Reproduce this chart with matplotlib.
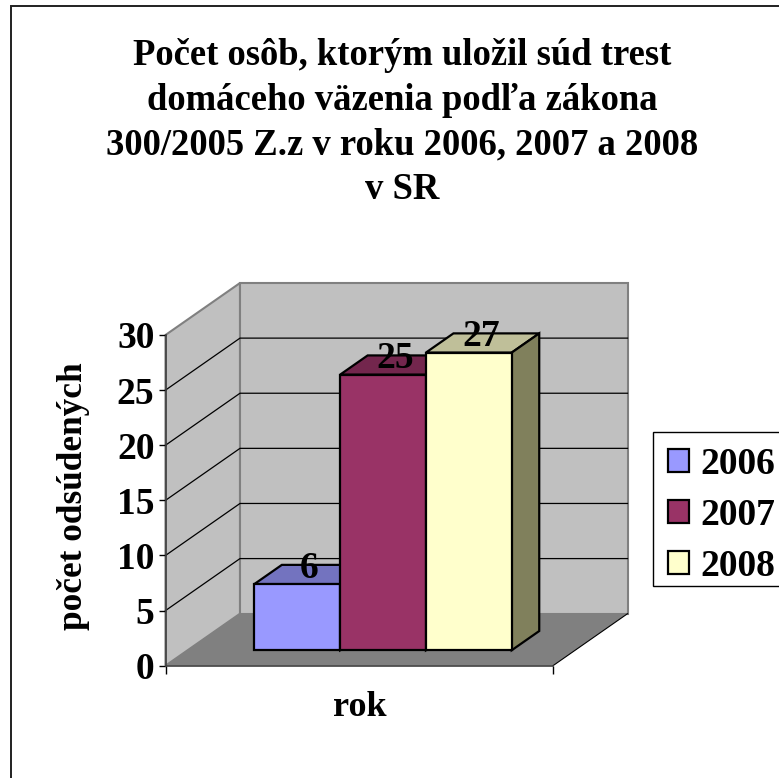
import matplotlib
matplotlib.use("Agg")
import matplotlib.pyplot as plt
from matplotlib.patches import Polygon, Patch, Rectangle

plt.rcParams['font.family'] = ['Liberation Serif', 'DejaVu Serif']
plt.rcParams['font.weight'] = 'bold'

W, H = 779, 778

title = "Počet osôb, ktorým uložil súd trest\ndomáceho väzenia podľa zákona\n300/2005 Z.z v roku 2006, 2007 a 2008\nv SR"
years = ["2006", "2007", "2008"]
values = [6, 25, 27]
colors = ["#9999ff", "#993366", "#ffffcc"]
top_colors = ["#7373bf", "#73264d", "#bfbf99"]
side_colors = ["#5c5c99", "#5c1f3d", "#80805c"]
yticks = [0, 5, 10, 15, 20, 25, 30]

# front plane of the fake 3d box, in pixels
left, right = 165.5, 553
y0_px, y30_px = 665.7, 335

fig = plt.figure(figsize=(W / 100, H / 100), dpi=100)
# only the left and top edges of the chart frame fall inside the picture
fig.add_artist(Rectangle((11 / W, -10 / H), 790 / W, (H + 10 - 5.5) / H, fill=False,
                         ec="#202020", lw=1.4, transform=fig.transFigure))

ax = fig.add_axes([left / W, 1 - y0_px / H, (right - left) / W, (y0_px - y30_px) / H])
ax.set_xlim(0, 1)
ax.set_ylim(0, 30)
ax.patch.set_visible(False)

# depth shift for the oblique view, in data units
DX = 74.5 / (right - left)
DY = 52.0 / ((y0_px - y30_px) / 30)
BAR_W = 85.8 / (right - left)
BAR_X0 = 0.172
D_FRONT, D_BACK = 0.298, 0.667


def pr(x, y, d):
    return (x + DX * d, y + DY * d)


def poly(pts, fc, ec="black", lw=1.0, z=1):
    ax.add_patch(Polygon(pts, closed=True, fc=fc, ec=ec, lw=lw, zorder=z, clip_on=False))


# walls and floor
poly([pr(0, 0, 0), pr(0, 30, 0), pr(0, 30, 1), pr(0, 0, 1)], "#c0c0c0", "#808080", 1.5)
poly([pr(0, 0, 1), pr(0, 30, 1), pr(1, 30, 1), pr(1, 0, 1)], "#c0c0c0", "#808080", 1.5)
poly([pr(0, 0, 0), pr(1, 0, 0), pr(1, 0, 1), pr(0, 0, 1)], "#808080", "none", 0)
ax.plot(*zip(pr(1, 0, 0), pr(1, 0, 1)), color="black", lw=0.8, zorder=1.5, clip_on=False)

for t in yticks[1:-1]:
    ax.plot(*zip(pr(0, t, 0), pr(0, t, 1), pr(1, t, 1)), color="black", lw=0.9, zorder=1.5, clip_on=False)

# bars, drawn left to right so the neighbour covers the shared side
for i, v in enumerate(values):
    x1 = BAR_X0 + i * BAR_W
    x2 = x1 + BAR_W
    poly([pr(x1, v, D_FRONT), pr(x2, v, D_FRONT), pr(x2, v, D_BACK), pr(x1, v, D_BACK)], top_colors[i], lw=1.6, z=3 + i)
    poly([pr(x2, 0, D_FRONT), pr(x2, v, D_FRONT), pr(x2, v, D_BACK), pr(x2, 0, D_BACK)], side_colors[i], lw=1.6, z=3 + i)
    poly([pr(x1, 0, D_FRONT), pr(x2, 0, D_FRONT), pr(x2, v, D_FRONT), pr(x1, v, D_FRONT)], colors[i], lw=1.6, z=3 + i)

for i, v in enumerate(values):
    x1 = BAR_X0 + i * BAR_W
    cx, cy = pr(x1 + BAR_W / 2, v, (D_FRONT + D_BACK) / 2)
    ax.annotate(str(v), (cx, cy), xytext=(-1, -8), textcoords="offset points", ha="center", va="bottom",
                fontsize=27, color="black", zorder=10, annotation_clip=False)

for s in ["top", "right"]:
    ax.spines[s].set_visible(False)
for s in ["left", "bottom"]:
    ax.spines[s].set_color("#404040")
    ax.spines[s].set_linewidth(1.2)
    ax.spines[s].set_zorder(2)

ax.set_yticks(yticks)
ax.set_xticks([0, 1])
ax.set_xticklabels([])
ax.tick_params(axis="y", length=5, width=1, labelsize=27, pad=3)
ax.tick_params(axis="x", length=6, width=1)

fig.text(360 / W, 1 - 707 / H, "rok", ha="center", va="center", fontsize=26)
fig.text(74 / W, 1 - 496 / H, "počet odsúdených", rotation=90, ha="center", va="center", fontsize=25.4)
fig.text(402 / W, 1 - 122.5 / H, title, ha="center", va="center", fontsize=26.4, linespacing=1.36)

# legend box is drawn by hand, matplotlib's own frame comes out too tall for this spacing
fig.add_artist(Rectangle((653 / W, 1 - 586 / H), 140 / W, 154 / H, fc="white", ec="black", lw=1.0,
                         transform=fig.transFigure))
handles = [Patch(fc=c, ec="black", lw=1.6) for c in colors]
leg = fig.legend(handles, years, loc="upper left", bbox_to_anchor=(653 / W, 1 - 432 / H), fontsize=27,
                 frameon=False, borderaxespad=0,
                 handlelength=0.56, handleheight=0.56, handletextpad=0.31, labelspacing=0.43, borderpad=0.39)
leg.set_zorder(5)

fig.savefig("out.png", dpi=100)
